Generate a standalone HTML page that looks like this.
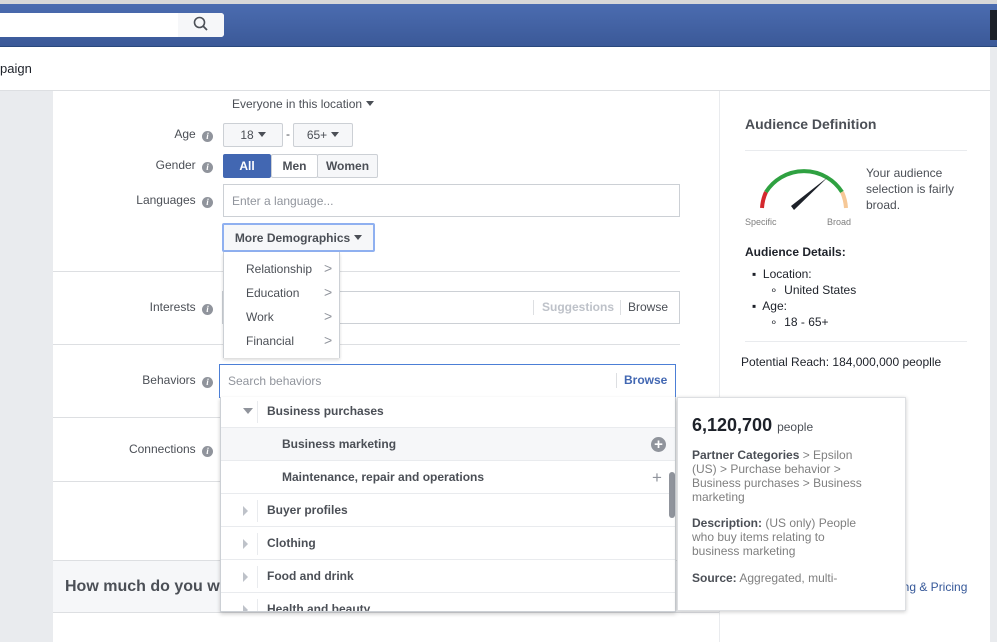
<!DOCTYPE html>
<html><head><meta charset="utf-8"><style>
*{box-sizing:border-box;margin:0;padding:0}
body{width:997px;height:642px;overflow:hidden;position:relative;background:#fff;font-family:"Liberation Sans",Arial,sans-serif;font-size:12px;color:#4b4f56}
.a{position:absolute}
.info{display:inline-block;width:11px;height:11px;border-radius:50%;background:#90949c;color:#fff;font-size:9px;line-height:11px;text-align:center;font-style:italic;font-weight:bold;vertical-align:-1px;margin-left:3px;font-family:"Liberation Serif",serif}
.btn{position:absolute;border:1px solid #ccd0d5;background:#f6f7f9;font-weight:bold;font-size:12px;color:#4b4f56;text-align:center;border-radius:2px}
.tri{display:inline-block;width:0;height:0;border-left:4px solid transparent;border-right:4px solid transparent;border-top:5px solid #4b4f56;vertical-align:2px;margin-left:4px}
.hl{position:absolute;height:1px;background:#dddfe2}
.row{position:absolute;left:0;width:456px;height:33px;border-bottom:1px solid #e9ebee;font-size:12px;font-weight:bold;color:#4b4f56;line-height:33px}
.rt{position:absolute;left:22px;top:12px;width:0;height:0;border-top:5px solid transparent;border-bottom:5px solid transparent;border-left:5px solid #bec2c9}
.sep{position:absolute;left:36px;top:6px;width:1px;height:22px;background:#e9ebee}
</style></head><body>
<div class="a" style="left:0;top:0;width:997px;height:4px;background:#d8d8d8"></div>
<div class="a" style="left:0;top:4px;width:997px;height:43px;background:linear-gradient(#4b6cb0,#3b5998);border-bottom:1px solid #29487d"></div>
<div class="a" style="left:0;top:13px;width:224px;height:24px;background:#fff;border-radius:0 3px 3px 0"></div>
<div class="a" style="left:178px;top:13px;width:46px;height:24px;background:#f6f7f9;border-radius:0 3px 3px 0"></div>
<svg class="a" style="left:193px;top:16px" width="16" height="16"><circle cx="6.5" cy="6.5" r="5" fill="none" stroke="#4b4f56" stroke-width="1.6"/><line x1="10" y1="10" x2="14" y2="14" stroke="#4b4f56" stroke-width="1.8"/></svg>
<div class="a" style="left:990px;top:10px;width:7px;height:30px;background:#1d2129"></div>
<div class="a" style="left:0;top:61px;font-size:13px;color:#1d2129">paign</div>
<div class="a" style="left:0;top:90px;width:997px;height:1px;background:#dddfe2"></div>
<div class="a" style="left:0;top:91px;width:53px;height:551px;background:#e9ebee"></div>
<div class="a" style="left:990px;top:47px;width:7px;height:595px;background:#e9ebee"></div>
<div class="a" style="left:719px;top:91px;width:1px;height:551px;background:#e9ebee"></div>
<div class="a" style="left:232px;top:97px;font-size:12px;color:#4b4f56">Everyone in this location<span class="tri"></span></div>
<div class="a" style="left:53px;top:127px;width:160px;text-align:right">Age <span class="info">i</span></div>
<div class="btn" style="left:223px;top:123px;width:60px;height:24px;line-height:22px;font-weight:normal">18<span class="tri"></span></div>
<div class="a" style="left:286px;top:127px">-</div>
<div class="btn" style="left:293px;top:123px;width:60px;height:24px;line-height:22px;font-weight:normal">65+<span class="tri"></span></div>
<div class="a" style="left:53px;top:158px;width:160px;text-align:right">Gender <span class="info">i</span></div>
<div class="btn" style="left:223px;top:154px;width:48px;height:24px;line-height:22px;background:#4267b2;border-color:#4267b2;color:#fff">All</div>
<div class="btn" style="left:271px;top:154px;width:47px;height:24px;line-height:22px;background:#fff">Men</div>
<div class="btn" style="left:317px;top:154px;width:61px;height:24px;line-height:22px">Women</div>
<div class="a" style="left:53px;top:193px;width:160px;text-align:right">Languages <span class="info">i</span></div>
<div class="a" style="left:223px;top:184px;width:457px;height:33px;border:1px solid #ccd0d5;padding:9px 8px;color:#90949c">Enter a language...</div>
<div class="btn" style="left:222px;top:223px;width:153px;height:29px;line-height:27px;border:2px solid #8fb0f0;background:#f6f7f9">More Demographics<span class="tri"></span></div>
<div class="hl" style="left:53px;top:271px;width:627px"></div>
<div class="a" style="left:53px;top:300px;width:160px;text-align:right">Interests <span class="info">i</span></div>
<div class="a" style="left:222px;top:291px;width:458px;height:33px;border:1px solid #ccd0d5"></div>
<div class="a" style="left:533px;top:300px;width:1px;height:15px;background:#dddfe2"></div>
<div class="a" style="left:542px;top:300px;color:#bec2c9;font-weight:bold">Suggestions</div>
<div class="a" style="left:620px;top:300px;width:1px;height:15px;background:#dddfe2"></div>
<div class="a" style="left:628px;top:300px;color:#4b4f56">Browse</div>
<div class="hl" style="left:53px;top:344px;width:627px"></div>
<div class="a" style="left:223px;top:252px;width:117px;height:106px;background:#fff;border:1px solid #ccd0d5;border-top:none;border-bottom:none;box-shadow:0 2px 3px rgba(0,0,0,.15);z-index:2">
 <div class="a" style="left:22px;top:10px">Relationship</div><div class="a" style="left:100px;top:8px;color:#90949c;font-size:14px">&gt;</div>
 <div class="a" style="left:22px;top:34px">Education</div><div class="a" style="left:100px;top:32px;color:#90949c;font-size:14px">&gt;</div>
 <div class="a" style="left:22px;top:58px">Work</div><div class="a" style="left:100px;top:56px;color:#90949c;font-size:14px">&gt;</div>
 <div class="a" style="left:22px;top:82px">Financial</div><div class="a" style="left:100px;top:80px;color:#90949c;font-size:14px">&gt;</div>
</div>
<div class="a" style="left:53px;top:373px;width:160px;text-align:right">Behaviors <span class="info">i</span></div>
<div class="a" style="left:219px;top:364px;width:457px;height:34px;border:1px solid #4c7fd6;background:#fff;z-index:3"></div>
<div class="a" style="left:228px;top:374px;color:#90949c;z-index:4">Search behaviors</div>
<div class="a" style="left:616px;top:373px;width:1px;height:15px;background:#dddfe2;z-index:4"></div>
<div class="a" style="left:624px;top:373px;color:#4267b2;font-weight:bold;z-index:4">Browse</div>
<div class="hl" style="left:53px;top:417px;width:167px"></div>
<div class="a" style="left:53px;top:442px;width:160px;text-align:right">Connections <span class="info">i</span></div>
<div class="hl" style="left:53px;top:481px;width:167px"></div>
<div class="a" style="left:53px;top:560px;width:666px;height:53px;background:#f6f7f9;border-top:1px solid #dddfe2;border-bottom:1px solid #dddfe2"></div>
<div class="a" style="left:65px;top:578px;font-size:16px;font-weight:bold;color:#4b4f56">How much do you wa</div>
<div class="a" style="left:900px;top:580px;color:#365899;font-size:12px">ing &amp; Pricing</div>
<div class="a" style="left:220px;top:397px;width:456px;height:215px;background:#fff;border:1px solid #ccd0d5;border-top:none;overflow:hidden;box-shadow:0 2px 4px rgba(0,0,0,.2);z-index:3">
 <div class="row" style="top:-2px"><div class="a" style="left:22px;top:13px;width:0;height:0;border-left:5px solid transparent;border-right:5px solid transparent;border-top:6px solid #90949c"></div><div class="sep"></div><span style="margin-left:46px">Business purchases</span></div>
 <div class="row" style="top:31px;background:#f6f7f9"><span style="margin-left:61px">Business marketing</span><div class="a" style="left:430px;top:9px;width:15px;height:15px;border-radius:50%;background:#90949c;color:#fff;font-size:15px;line-height:15px;text-align:center">+</div></div>
 <div class="row" style="top:64px"><span style="margin-left:61px">Maintenance, repair and operations</span><div class="a" style="left:431px;top:0;color:#90949c;font-size:17px;font-weight:normal">+</div></div>
 <div class="row" style="top:97px"><div class="rt"></div><div class="sep"></div><span style="margin-left:46px">Buyer profiles</span></div>
 <div class="row" style="top:130px"><div class="rt"></div><div class="sep"></div><span style="margin-left:46px">Clothing</span></div>
 <div class="row" style="top:163px"><div class="rt"></div><div class="sep"></div><span style="margin-left:46px">Food and drink</span></div>
 <div class="row" style="top:196px"><div class="rt"></div><div class="sep"></div><span style="margin-left:46px">Health and beauty</span></div>
 <div class="a" style="left:448px;top:75px;width:6px;height:46px;border-radius:3px;background:#90949c"></div>
</div>
<div class="a" style="left:677px;top:397px;width:229px;height:214px;background:#fff;border:1px solid #dddfe2;box-shadow:0 1px 4px rgba(0,0,0,.2);padding:16px 40px 16px 14px;font-size:12px;color:#7f7f7f;line-height:14px;z-index:3">
 <div style="color:#1d2129;font-size:18px;font-weight:bold;line-height:22px;white-space:nowrap">6,120,700 <span style="font-size:12px;font-weight:normal;color:#4b4f56">people</span></div>
 <div style="margin-top:10px"><b style="color:#4b4f56">Partner Categories</b> &gt; Epsilon (US) &gt; Purchase behavior &gt; Business purchases &gt; Business marketing</div>
 <div style="margin-top:12px"><b style="color:#4b4f56">Description:</b> (US only) People who buy items relating to business marketing</div>
 <div style="margin-top:13px;white-space:nowrap"><b style="color:#4b4f56">Source:</b> Aggregated, multi-</div>
</div>
<div class="a" style="left:745px;top:116px;font-size:14px;font-weight:bold;color:#4b4f56">Audience Definition</div>
<div class="hl" style="left:745px;top:150px;width:222px;background:#e9ebee"></div>
<svg class="a" style="left:750px;top:162px" width="110" height="70">
 <path d="M12 46 A45 45 0 0 1 16 30" fill="none" stroke="#d4282d" stroke-width="4"/>
 <path d="M16 30 A45 45 0 0 1 92 30" fill="none" stroke="#2fa141" stroke-width="4"/>
 <path d="M92 30 A45 45 0 0 1 96 46" fill="none" stroke="#f6c897" stroke-width="4"/>
 <polygon points="41,44 78,15 44,48" fill="#1d2129"/>
</svg>
<div class="a" style="left:745px;top:217px;font-size:9px;color:#7f7f7f">Specific</div>
<div class="a" style="left:827px;top:217px;font-size:9px;color:#7f7f7f">Broad</div>
<div class="a" style="left:866px;top:165px;width:100px;line-height:16px;color:#4b4f56">Your audience selection is fairly broad.</div>
<div class="a" style="left:745px;top:245px;font-weight:bold;color:#1d2129">Audience Details:</div>
<div class="a" style="left:752px;top:266px;line-height:16px;color:#1d2129">
 <div>▪&nbsp; Location:</div>
 <div style="padding-left:18px">∘&nbsp; United States</div>
 <div>▪&nbsp; Age:</div>
 <div style="padding-left:18px">∘&nbsp; 18 - 65+</div>
</div>
<div class="hl" style="left:745px;top:341px;width:222px;background:#e9ebee"></div>
<div class="a" style="left:741px;top:355px;color:#1d2129">Potential Reach: 184,000,000 peoplle</div>
</body></html>
